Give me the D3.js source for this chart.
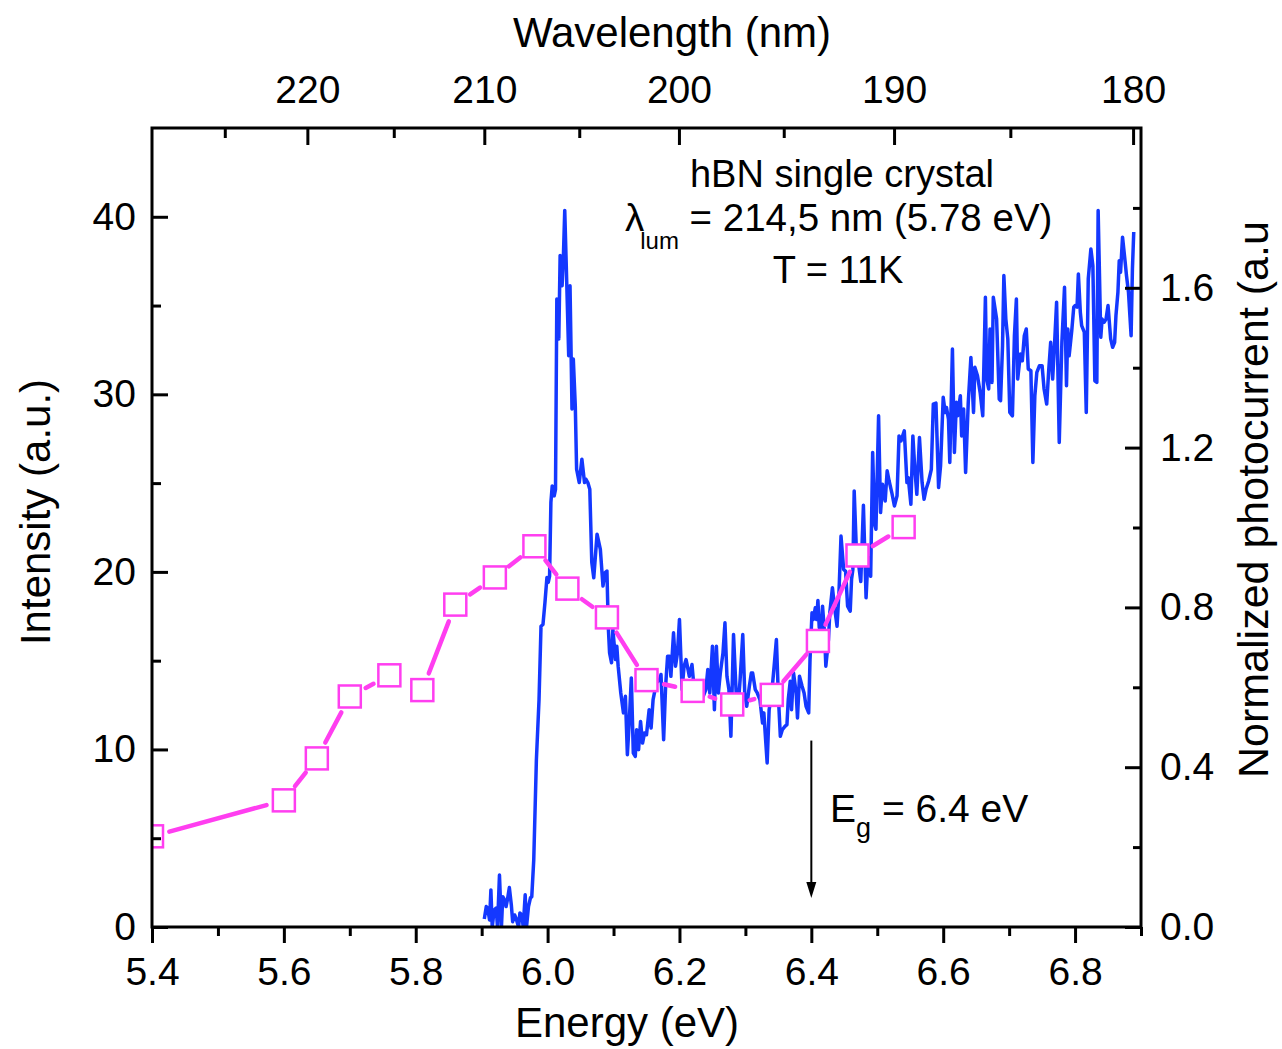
<!DOCTYPE html>
<html>
<head>
<meta charset="utf-8">
<script src="https://cdnjs.cloudflare.com/ajax/libs/d3/7.8.5/d3.min.js"></script>
<style>
body { margin: 0; background: #fff; }
text { font-family: Arial, "Liberation Sans", sans-serif; }
</style>
</head>
<body>
<svg id="chart" width="1282" height="1049"></svg>
<script>
// luminescence spectrum (left axis)
var lumEnergy = [5.904,5.907,5.909,5.912,5.914,5.916,5.919,5.922,5.924,5.927,5.930,5.932,5.935,5.937,5.939,5.942,5.945,5.947,5.950,5.952,
  5.956,5.958,5.961,5.963,5.966,5.968,5.971,5.974,5.976,5.979,5.983,5.987,5.990,5.993,5.996,5.999,6.001,6.003,6.005,6.007,
  6.010,6.012,6.014,6.017,6.019,6.022,6.024,6.026,6.029,6.032,6.034,6.037,6.039,6.042,6.044,6.048,6.052,6.056,6.058,6.061,
  6.064,6.067,6.070,6.075,6.080,6.084,6.087,6.090,6.092,6.094,6.097,6.099,6.103,6.105,6.107,6.111,6.115,6.118,6.121,6.124,
  6.127,6.130,6.133,6.135,6.138,6.141,6.144,6.147,6.150,6.154,6.157,6.160,6.165,6.170,6.172,6.176,6.179,6.182,6.185,6.187,
  6.191,6.194,6.197,6.200,6.204,6.207,6.210,6.212,6.215,6.219,6.221,6.225,6.229,6.232,6.236,6.240,6.243,6.246,6.250,6.253,
  6.256,6.259,6.262,6.266,6.269,6.272,6.275,6.278,6.282,6.286,6.289,6.292,6.296,6.299,6.302,6.306,6.309,6.311,6.315,6.318,
  6.322,6.326,6.328,6.331,6.333,6.336,6.340,6.344,6.347,6.350,6.353,6.356,6.360,6.363,6.365,6.368,6.370,6.373,6.377,6.379,
  6.382,6.386,6.389,6.392,6.396,6.398,6.401,6.403,6.406,6.408,6.410,6.412,6.415,6.417,6.420,6.422,6.426,6.428,6.432,6.435,
  6.439,6.442,6.445,6.449,6.452,6.455,6.459,6.461,6.463,6.465,6.469,6.472,6.475,6.479,6.483,6.486,6.490,6.493,6.496,6.498,
  6.502,6.505,6.508,6.512,6.515,6.518,6.522,6.526,6.530,6.533,6.536,6.541,6.545,6.547,6.551,6.554,6.557,6.560,6.564,6.568,
  6.571,6.574,6.578,6.582,6.585,6.589,6.593,6.596,6.600,6.603,6.605,6.608,6.610,6.614,6.617,6.620,6.622,6.626,6.628,6.631,
  6.634,6.638,6.642,6.646,6.648,6.652,6.656,6.660,6.664,6.666,6.669,6.671,6.674,6.676,6.681,6.685,6.687,6.690,6.692,6.695,
  6.698,6.701,6.705,6.708,6.711,6.713,6.717,6.720,6.723,6.726,6.729,6.733,6.736,6.739,6.742,6.746,6.750,6.753,6.757,6.760,
  6.763,6.766,6.769,6.772,6.776,6.780,6.784,6.787,6.789,6.791,6.795,6.798,6.800,6.803,6.805,6.808,6.810,6.814,6.817,6.820,
  6.824,6.827,6.830,6.833,6.835,6.839,6.841,6.844,6.847,6.850,6.854,6.857,6.860,6.862,6.865,6.867,6.869,6.872,6.876,6.878,
  6.881,6.885,6.887,6.889];
var lumIntensity = [0.45,1.15,1.07,0.39,2.09,0,0.96,1.07,0,2.93,0,1.71,1.52,1.15,1.52,2.22,1.24,0.30,0.68,0.51,
  0,0.79,0.68,0,1.81,0,1.15,1.64,1.71,3.78,9.42,12.8,16.94,17.04,18.28,19.69,19.41,19.76,23.92,24.84,
  24.28,24.65,35.37,33.12,37.82,36.12,37.82,40.36,36.32,32.17,36.12,29.17,31.99,29.35,25.78,25.03,26.35,25.03,25.22,25.03,
  24.65,20.54,19.67,22.12,21.27,19.20,19.95,20.05,16.94,15.44,14.88,16.76,15.06,15.81,14.69,13.18,12.06,12.99,9.70,11.68,
  14.03,9.80,9.61,11.11,9.99,11.58,10.36,10.93,10.83,12.24,11.21,12.81,13.75,13.94,14.22,10.55,13.56,15.25,15.25,14.12,
  16.57,14.69,15.44,17.32,13.37,14.69,15.06,14.69,14.12,14.78,13.94,13.75,12.81,13.37,12.99,13.37,14.50,13.18,15.81,12.24,
  15.81,13.18,14.31,15.44,17.13,14.12,13.37,10.74,16.47,13.18,12.43,13.94,16.47,13.18,12.43,13.56,14.31,14.31,13.37,13.18,
  12.81,11.49,12.06,10.36,9.24,12.24,13.18,14.88,16.19,12.99,10.74,11.11,11.30,11.40,12.81,13.84,12.24,14.31,13.18,11.77,
  14.12,13.56,13.18,12.43,12.06,15.06,17.70,17.32,17.98,17.32,18.39,16.87,16.57,18.07,16.57,14.69,16.19,17.70,19.11,18.07,
  16.94,18.91,22.02,20.14,20.03,18.07,17.79,19.58,20.14,24.56,20.54,20.33,19.46,23.75,18.54,20.82,19.76,26.73,22.68,22.40,
  28.79,23.34,24.94,23.99,25.69,25.12,24.47,23.71,24.28,27.66,27.38,27.94,25.03,25.31,23.81,27.66,25.78,24.37,27.57,25.03,
  24.09,24.65,25.12,25.78,29.45,29.51,24.75,25.97,29.83,28.98,29.26,28.60,26.16,32.55,26.73,29.55,28.79,29.92,27.66,29.17,
  25.60,29.55,32.08,28.98,31.52,31.05,30.11,28.79,35.47,30.86,30.30,33.68,30.67,35.47,34.24,29.73,29.64,32.74,36.69,34.24,
  33.12,28.98,28.79,33.30,35.37,30.86,32.27,31.89,33.30,33.68,31.43,31.33,26.16,29.92,31.24,31.61,31.61,30.30,29.45,31.33,
  32.93,30.86,32.93,35.19,27.29,32.93,36.03,30.48,33.68,32.17,33.59,34.91,35.00,34.91,36.78,34.62,33.87,33.50,28.98,36.50,
  38.19,37.25,30.76,30.67,40.35,33.21,34.24,34.06,34.24,35.00,33.12,32.65,32.93,34.43,35.75,37.53,36.88,38.85,37.44,36.69,
  35.75,33.30,37.07,39.14];

// photocurrent (right axis)
var pcEnergy = [5.40,5.60,5.65,5.70,5.76,5.81,5.86,5.92,5.98,6.03,6.09,6.15,6.22,6.28,6.34,6.41,6.47,6.54];
var pcValue  = [0.227,0.317,0.422,0.577,0.630,0.593,0.807,0.875,0.953,0.847,0.775,0.618,0.591,0.557,0.581,0.716,0.930,1.001];

// ticks
var xMajor = [5.4,5.6,5.8,6.0,6.2,6.4,6.6,6.8];
var xMinor = [5.5,5.7,5.9,6.1,6.3,6.5,6.7,6.9];
var yLMajor = [0,10,20,30,40];
var yLMinor = [5,15,25,35];
var yRMajor = [0,0.4,0.8,1.2,1.6];
var yRMinor = [0.2,0.6,1.0,1.4,1.8];
var wlMajor = [220,210,200,190,180];
var wlMinor = [225,215,205,195,185];

var BLUE = "#1438ff", PINK = "#ff3ef0";
var W = 1282, H = 1049;
var m = {left: 152, right: 1141, top: 128, bottom: 927};

var x = d3.scaleLinear().domain([5.4, 6.9]).range([m.left, m.right]);
var yL = d3.scaleLinear().domain([0, 45]).range([m.bottom, m.top]);
var yR = d3.scaleLinear().domain([0, 2]).range([m.bottom, m.top]);
var toE = function (nm) { return 1239.84 / nm; };

var svg = d3.select("#chart");
svg.append("rect").attr("width", W).attr("height", H).attr("fill", "#fff");

svg.append("clipPath").attr("id", "plot").append("rect")
  .attr("x", m.left).attr("y", m.top)
  .attr("width", m.right - m.left).attr("height", m.bottom - m.top);

var g = svg.append("g").attr("clip-path", "url(#plot)");

var lum = lumEnergy.map(function (e, i) { return [e, lumIntensity[i]]; });
g.append("path").datum(lum)
  .attr("d", d3.line().x(function (d) { return x(d[0]); }).y(function (d) { return yL(d[1]); }))
  .attr("fill", "none").attr("stroke", BLUE).attr("stroke-width", 3.5)
  .attr("stroke-linejoin", "round");

// photocurrent line, Origin style: gaps around the symbols
var pc = pcEnergy.map(function (e, i) { return [x(e), yR(pcValue[i])]; });
var gap = 18;
for (var i = 0; i < pc.length - 1; i++) {
  var dx = pc[i + 1][0] - pc[i][0], dy = pc[i + 1][1] - pc[i][1];
  var d = Math.sqrt(dx * dx + dy * dy);
  if (d < 2 * gap + 3) continue;
  var ux = dx / d, uy = dy / d;
  g.append("line")
    .attr("x1", pc[i][0] + ux * gap).attr("y1", pc[i][1] + uy * gap)
    .attr("x2", pc[i + 1][0] - ux * gap).attr("y2", pc[i + 1][1] - uy * gap)
    .attr("stroke", PINK).attr("stroke-width", 4.5).attr("stroke-linecap", "round");
}
g.selectAll("rect.sq").data(pc).enter().append("rect").attr("class", "sq")
  .attr("x", function (d) { return d[0] - 11; }).attr("y", function (d) { return d[1] - 11; })
  .attr("width", 22).attr("height", 22)
  .attr("fill", "#fff").attr("stroke", PINK).attr("stroke-width", 2.5);

// axes
function styleAxis(sel, size) {
  sel.select(".domain").remove();
  sel.selectAll(".tick line").attr("stroke", "#000").attr("stroke-width", 3);
  sel.selectAll(".tick text").attr("font-size", size).attr("fill", "#000")
    .attr("font-family", "Arial, 'Liberation Sans', sans-serif");
}
function addAxis(axis, tx, ty, size) {
  var a = svg.append("g").attr("transform", "translate(" + tx + "," + ty + ")").call(axis);
  styleAxis(a, size);
}

addAxis(d3.axisBottom(x).tickValues(xMajor).tickSize(16).tickPadding(14).tickFormat(d3.format(".1f")), 0, m.bottom, 39);
addAxis(d3.axisBottom(x).tickValues(xMinor).tickSize(9).tickFormat(""), 0, m.bottom, 39);

addAxis(d3.axisLeft(yL).tickValues(yLMajor).tickSize(-16).tickPadding(16).tickFormat(d3.format("d")), m.left, 0, 39);
addAxis(d3.axisLeft(yL).tickValues(yLMinor).tickSize(-9).tickFormat(""), m.left, 0, 39);

addAxis(d3.axisRight(yR).tickValues(yRMajor).tickSize(-16).tickPadding(19).tickFormat(d3.format(".1f")), m.right, 0, 39);
addAxis(d3.axisRight(yR).tickValues(yRMinor).tickSize(-8).tickFormat(""), m.right, 0, 39);

addAxis(d3.axisTop(x).tickValues(wlMajor.map(toE)).tickSize(-17).tickPadding(25)
  .tickFormat(function (d, i) { return wlMajor[i]; }), 0, m.top, 39);
addAxis(d3.axisTop(x).tickValues(wlMinor.map(toE)).tickSize(-10).tickFormat(""), 0, m.top, 39);

svg.append("rect").attr("x", m.left).attr("y", m.top)
  .attr("width", m.right - m.left).attr("height", m.bottom - m.top)
  .attr("fill", "none").attr("stroke", "#000").attr("stroke-width", 3);

// axis titles
svg.append("text").attr("x", 627).attr("y", 1037).attr("text-anchor", "middle")
  .attr("font-size", 42).text("Energy (eV)");
svg.append("text").attr("x", 672).attr("y", 47).attr("text-anchor", "middle")
  .attr("font-size", 42).text("Wavelength (nm)");
svg.append("text").attr("transform", "translate(50,512) rotate(-90)").attr("text-anchor", "middle")
  .attr("font-size", 42).text("Intensity (a.u.)");
svg.append("text").attr("transform", "translate(1268,778) rotate(-90)").attr("text-anchor", "start")
  .attr("font-size", 43).text("Normalized photocurrent (a.u");

// annotation
svg.append("text").attr("x", 842).attr("y", 187).attr("text-anchor", "middle")
  .attr("font-size", 38).text("hBN single crystal");
var lt = svg.append("text").attr("x", 625).attr("y", 231).attr("font-size", 38.5);
lt.append("tspan").text("λ");
lt.append("tspan").attr("font-size", 24).attr("dx", -4).attr("dy", 18).text("lum");
lt.append("tspan").attr("dy", -18).text(" = 214,5 nm (5.78 eV)");
svg.append("text").attr("x", 838).attr("y", 283).attr("text-anchor", "middle")
  .attr("font-size", 38).text("T = 11K");

// band gap arrow
var ax = x(6.4), tipY = yL(1.64), topY = yL(10.5);
svg.append("line").attr("x1", ax).attr("x2", ax).attr("y1", topY).attr("y2", tipY - 10)
  .attr("stroke", "#000").attr("stroke-width", 2);
svg.append("path")
  .attr("d", "M" + (ax - 5) + "," + (tipY - 16) + "L" + (ax + 5) + "," + (tipY - 16) + "L" + ax + "," + tipY + "Z")
  .attr("fill", "#000");
var et = svg.append("text").attr("x", 830).attr("y", 822).attr("font-size", 39);
et.append("tspan").text("E");
et.append("tspan").attr("font-size", 27).attr("dy", 15).text("g");
et.append("tspan").attr("dy", -15).text(" = 6.4 eV");
</script>
</body>
</html>
